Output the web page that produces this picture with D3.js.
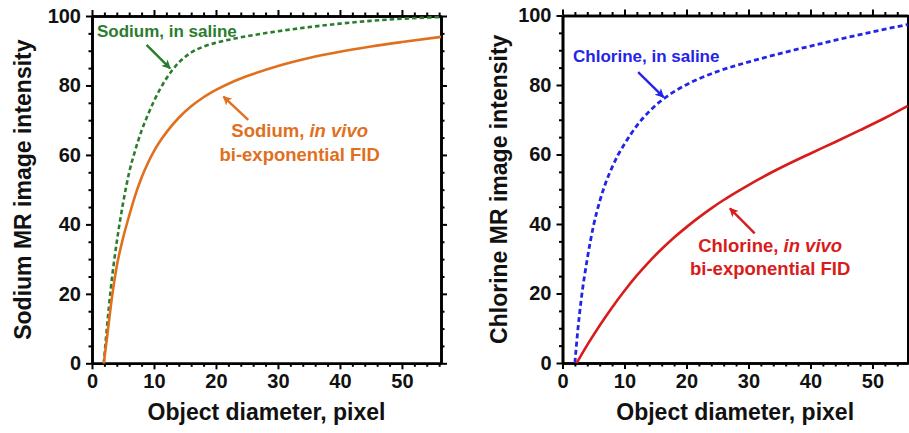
<!DOCTYPE html>
<html>
<head>
<meta charset="utf-8">
<script src="https://cdn.jsdelivr.net/npm/d3@7/dist/d3.min.js"></script>
<style>
  html, body { margin: 0; padding: 0; background: #fff; }
  svg text { font-family: "Liberation Sans", Arial, Helvetica, sans-serif; font-weight: bold; }
</style>
</head>
<body>
<svg id="chart" width="909" height="433"></svg>
<script>
// ---------- data ----------
const xTickLabels = [0, 10, 20, 30, 40, 50];
const yTickLabels = [0, 20, 40, 60, 80, 100];

const sodiumSaline = [
  [1.9,0],[2.5,12],[3,21],[4,35],[5,46],[6,55],[7,61.5],[8,67],[9,71.5],[10,75.5],
  [11,79],[12,82],[13,84.5],[14,86.6],[15,88.2],[16,89.5],[18,91.2],[20,92.3],
  [23,93.5],[26,94.5],[30,95.6],[35,96.8],[40,97.8],[45,98.6],[50,99.2],[56.3,99.7]
];
const sodiumVivo = [
  [1.9,0],[2.5,8.5],[3,16],[4,28],[5,36],[6,42.5],[7,48.5],[8,53.5],[9,57.6],
  [10,61.1],[11,64],[12,66.5],[14,70.7],[16,74],[18,76.6],[20,78.7],[23,81.3],
  [26,83.3],[30,85.6],[35,87.9],[40,89.7],[45,91.2],[50,92.5],[56.3,94]
];
const chlorineSaline = [
  [2,0],[2.5,10],[3,18],[4,30],[5,39.5],[6,46.5],[7,52],[8,56.3],[9,60],[10,63],
  [11,65.8],[12,68.3],[13,70.5],[14,72.4],[15,74.1],[16,75.6],[17,76.9],[18,78.1],
  [20,80.1],[22,81.8],[25,83.9],[28,85.6],[32,87.6],[37,89.9],[41,91.6],[45,93.3],
  [50,95.3],[55.7,97.4]
];
const chlorineVivo = [
  [2.3,0],[4,5.2],[6,10.8],[8,16],[10,20.8],[12,25.2],[14,29.2],[16,32.8],[18,36.1],
  [20,39.1],[22,41.9],[24,44.5],[26,46.9],[28,49.1],[30,51.2],[32,53.2],[34,55.1],
  [36,56.9],[40,60.3],[44,63.6],[48,67],[52,70.5],[55.7,74]
];

const panels = [
  {
    left: 92, right: 441, top: 16, bottom: 363.3, xMax: 56.3,
    yTitle: "Sodium MR image intensity", yTitleX: 31,
    series: [
      { data: sodiumSaline, color: "#2a7d2e", dash: "4.5,3", width: 2.6 },
      { data: sodiumVivo, color: "#e0701e", dash: null, width: 2.6 }
    ],
    labels: [
      { lines: [[{t:"Sodium, in saline"}]], x: 0.8, y: 94, anchor: "start", color: "#2a7d2e", size: 17 },
      { lines: [[{t:"Sodium, "},{t:"in vivo", it:true}], [{t:"bi-exponential FID"}]],
        x: 33.5, y: 65.1, anchor: "middle", color: "#e0701e", size: 18.5, lineGap: 24 }
    ],
    arrows: [
      { from: [8.8, 91.7], to: [12.6, 84.9], color: "#2a7d2e" },
      { from: [25.2, 70.1], to: [21.2, 76.8], color: "#e0701e" }
    ]
  },
  {
    left: 562.5, right: 907.8, top: 15.5, bottom: 363, xMax: 55.7,
    yTitle: "Chlorine MR image intensity", yTitleX: 507,
    series: [
      { data: chlorineSaline, color: "#2424e8", dash: "5,3.2", width: 2.8 },
      { data: chlorineVivo, color: "#d81c1c", dash: null, width: 2.6 }
    ],
    labels: [
      { lines: [[{t:"Chlorine, in saline"}]], x: 1.7, y: 86.6, anchor: "start", color: "#2424e8", size: 17 },
      { lines: [[{t:"Chlorine, "},{t:"in vivo", it:true}], [{t:"bi-exponential FID"}]],
        x: 33.5, y: 32, anchor: "middle", color: "#d81c1c", size: 18.5, lineGap: 23.5 }
    ],
    arrows: [
      { from: [12.2, 83.7], to: [16.3, 76.5], color: "#2424e8" },
      { from: [31.0, 37.3], to: [27.0, 44.5], color: "#d81c1c" }
    ]
  }
];

const svg = d3.select("#chart");
const defs = svg.append("defs");

function arrowMarker(color, id) {
  defs.append("marker")
    .attr("id", id)
    .attr("markerUnits", "userSpaceOnUse")
    .attr("viewBox", "0 0 10 10")
    .attr("refX", 9).attr("refY", 5)
    .attr("markerWidth", 11).attr("markerHeight", 9)
    .attr("orient", "auto")
    .append("path").attr("d", "M0,0 L10,5 L0,10 L2.5,5 Z").attr("fill", color);
}

panels.forEach((p, pi) => {
  const x = d3.scaleLinear().domain([0, p.xMax]).range([p.left, p.right]);
  const y = d3.scaleLinear().domain([0, 100]).range([p.bottom, p.top]);
  const g = svg.append("g");

  const xMinor = d3.range(0, p.xMax, 2).filter(v => v % 10 !== 0);
  const yMinor = d3.range(0, 100, 5).filter(v => v % 20 !== 0);

  function styleAxis(sel) {
    sel.select(".domain").attr("stroke", "#000").attr("stroke-width", 2.6);
    sel.selectAll(".tick line").attr("stroke", "#000").attr("stroke-width", 2);
    sel.selectAll(".tick text")
      .attr("fill", "#111")
      .style("font-size", "20px")
      .style("font-family", "'Liberation Sans', Arial, sans-serif")
      .style("font-weight", "bold");
  }

  // bottom
  g.append("g").attr("transform", `translate(0,${p.bottom})`)
    .call(d3.axisBottom(x).tickValues(xTickLabels).tickSize(6).tickSizeOuter(0).tickPadding(5).tickFormat(d3.format("d")))
    .call(styleAxis);
  g.append("g").attr("transform", `translate(0,${p.bottom})`)
    .call(d3.axisBottom(x).tickValues(xMinor).tickSize(3.5).tickSizeOuter(0).tickFormat(""))
    .call(styleAxis);
  // top
  g.append("g").attr("transform", `translate(0,${p.top})`)
    .call(d3.axisTop(x).tickValues(xTickLabels).tickSize(6).tickSizeOuter(0).tickFormat(""))
    .call(styleAxis);
  g.append("g").attr("transform", `translate(0,${p.top})`)
    .call(d3.axisTop(x).tickValues(xMinor).tickSize(3.5).tickSizeOuter(0).tickFormat(""))
    .call(styleAxis);
  // left
  g.append("g").attr("transform", `translate(${p.left},0)`)
    .call(d3.axisLeft(y).tickValues(yTickLabels).tickSize(6).tickSizeOuter(0).tickPadding(5).tickFormat(d3.format("d")))
    .call(styleAxis);
  g.append("g").attr("transform", `translate(${p.left},0)`)
    .call(d3.axisLeft(y).tickValues(yMinor).tickSize(3.5).tickSizeOuter(0).tickFormat(""))
    .call(styleAxis);
  // right
  g.append("g").attr("transform", `translate(${p.right},0)`)
    .call(d3.axisRight(y).tickValues(yTickLabels).tickSize(6).tickSizeOuter(0).tickFormat(""))
    .call(styleAxis);
  g.append("g").attr("transform", `translate(${p.right},0)`)
    .call(d3.axisRight(y).tickValues(yMinor).tickSize(3.5).tickSizeOuter(0).tickFormat(""))
    .call(styleAxis);

  // curves
  const line = d3.line().x(d => x(d[0])).y(d => y(d[1])).curve(d3.curveMonotoneX);
  p.series.forEach(s => {
    g.append("path")
      .attr("d", line(s.data))
      .attr("fill", "none")
      .attr("stroke", s.color)
      .attr("stroke-width", s.width)
      .attr("stroke-dasharray", s.dash)
      .attr("stroke-linecap", "butt");
  });

  // arrows
  p.arrows.forEach((a, ai) => {
    const id = `arr${pi}_${ai}`;
    arrowMarker(a.color, id);
    g.append("line")
      .attr("x1", x(a.from[0])).attr("y1", y(a.from[1]))
      .attr("x2", x(a.to[0])).attr("y2", y(a.to[1]))
      .attr("stroke", a.color).attr("stroke-width", 2.4)
      .attr("marker-end", `url(#${id})`);
  });

  // labels
  p.labels.forEach(l => {
    l.lines.forEach((ln, li) => {
      const t = g.append("text")
        .attr("x", x(l.x)).attr("y", y(l.y) + li * (l.lineGap || 0))
        .attr("text-anchor", l.anchor)
        .attr("fill", l.color)
        .style("font-size", l.size + "px");
      ln.forEach(seg => {
        t.append("tspan").text(seg.t).style("font-style", seg.it ? "italic" : "normal");
      });
    });
  });

  // axis titles
  g.append("text")
    .attr("x", (p.left + p.right) / 2).attr("y", 420)
    .attr("text-anchor", "middle").attr("fill", "#111")
    .style("font-size", "23px")
    .text("Object diameter, pixel");
  g.append("text")
    .attr("transform", `translate(${p.yTitleX},${(p.top + p.bottom) / 2}) rotate(-90)`)
    .attr("text-anchor", "middle").attr("fill", "#111")
    .style("font-size", "23px")
    .text(p.yTitle);
});
</script>
</body>
</html>
